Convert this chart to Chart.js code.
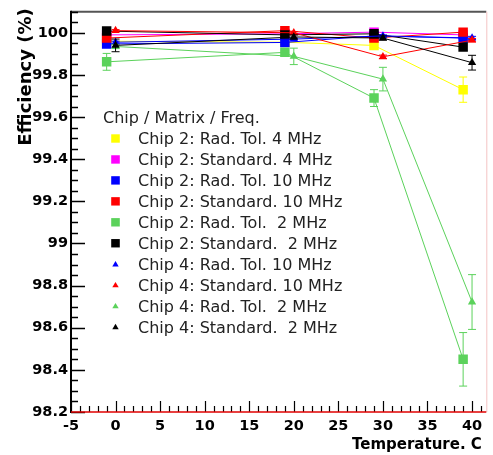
<!doctype html>
<html>
<head>
  <meta charset="utf-8" />
  <title>Efficiency vs Temperature</title>
  <script src="https://cdn.jsdelivr.net/npm/chart.js@4"></script>
  <style>
    body { margin: 0; background: #fff; }
    #wrap { width: 493px; height: 455px; }
  </style>
</head>
<body>
<div id="wrap"><canvas id="effChart" width="493" height="455"></canvas></div>

<script>
  // temperatures (C) - chip 2 points sit one degree left of chip 4 points
  var chip2Temp = [-1, 19, 29, 39];
  var chip4Temp = [0, 20, 30, 40];

  // efficiency (%) and errors, one pair of arrays per curve
  var c2RadTol4 = [99.96, 99.955, 99.94, 99.73];
  var c2RadTol4Err = [0.01, 0.01, 0.015, 0.06];
  var c2Std4 = [99.99, 99.995, 100.003, 99.99];
  var c2Std4Err = [0.005, 0.005, 0.005, 0.008];
  var c2RadTol10 = [99.947, 99.954, 99.985, 99.975];
  var c2RadTol10Err = [0.008, 0.008, 0.005, 0.008];
  var c2Std10 = [99.975, 100.01, 99.975, 100.003];
  var c2Std10Err = [0.005, 0.005, 0.005, 0.008];
  var c2RadTol2 = [99.862, 99.907, 99.69, 98.45];
  var c2RadTol2Err = [0.04, 0.015, 0.04, 0.127];
  var c2Std2 = [100.008, 99.99, 99.995, 99.932];
  var c2Std2Err = [0.005, 0.005, 0.008, 0.015];
  var c4RadTol10 = [99.955, 99.97, 99.985, 99.975];
  var c4RadTol10Err = [0.005, 0.005, 0.005, 0.008];
  var c4Std10 = [100.01, 100.0, 99.886, 99.965];
  var c4Std10Err = [0.005, 0.005, 0.008, 0.008];
  var c4RadTol2 = [99.935, 99.888, 99.78, 98.722];
  var c4RadTol2Err = [0.01, 0.039, 0.056, 0.13];
  var c4Std2 = [99.94, 99.98, 99.975, 99.858];
  var c4Std2Err = [0.03, 0.01, 0.01, 0.035];

  var seriesLabels = [
    'Chip 2: Rad. Tol. 4 MHz',
    'Chip 2: Standard. 4 MHz',
    'Chip 2: Rad. Tol. 10 MHz',
    'Chip 2: Standard. 10 MHz',
    'Chip 2: Rad. Tol.  2 MHz',
    'Chip 2: Standard.  2 MHz',
    'Chip 4: Rad. Tol. 10 MHz',
    'Chip 4: Standard. 10 MHz',
    'Chip 4: Rad. Tol.  2 MHz',
    'Chip 4: Standard.  2 MHz'
  ];
  var seriesColors = ['#ffff00', '#ff00ff', '#0000ff', '#ff0000', '#5bd25b', '#000000',
                      '#0000ff', '#ff0000', '#5bd25b', '#000000'];
  var seriesMarkers = ['rect', 'rect', 'rect', 'rect', 'rect', 'rect',
                       'triangle', 'triangle', 'triangle', 'triangle'];
  var seriesTemps = [chip2Temp, chip2Temp, chip2Temp, chip2Temp, chip2Temp, chip2Temp,
                     chip4Temp, chip4Temp, chip4Temp, chip4Temp];
  var seriesValues = [c2RadTol4, c2Std4, c2RadTol10, c2Std10, c2RadTol2, c2Std2,
                      c4RadTol10, c4Std10, c4RadTol2, c4Std2];
  var seriesErrors = [c2RadTol4Err, c2Std4Err, c2RadTol10Err, c2Std10Err, c2RadTol2Err, c2Std2Err,
                      c4RadTol10Err, c4Std10Err, c4RadTol2Err, c4Std2Err];

  var legendTitle = 'Chip / Matrix / Freq.';
  var yTitle = 'Efficiency (%)';
  var xTitle = 'Temperature. C';
  var yTicks = [98.2, 98.4, 98.6, 98.8, 99, 99.2, 99.4, 99.6, 99.8, 100];
  var xTicks = [-5, 0, 5, 10, 15, 20, 25, 30, 35, 40];
  var yMinorStep = 0.05;
  var xMinorStep = 1;

  var datasets = seriesLabels.map(function (lab, i) {
    return {
      label: lab,
      data: seriesTemps[i].map(function (t, j) {
        return { x: t, y: seriesValues[i][j], err: seriesErrors[i][j] };
      }),
      showLine: true,
      borderColor: seriesColors[i],
      borderWidth: 1,
      backgroundColor: seriesColors[i],
      pointBackgroundColor: seriesColors[i],
      pointBorderWidth: 0,
      pointStyle: seriesMarkers[i],
      pointRadius: seriesMarkers[i] === 'rect' ? 6.7 : 4.8,
      order: -i // later curves on top, like ROOT
    };
  });

  // error bars under each curve's markers
  var errorBars = {
    id: 'errorBars',
    beforeDatasetDraw: function (chart, args) {
      var ctx = chart.ctx, ys = chart.scales.y;
      var color = chart.data.datasets[args.index].borderColor;
      ctx.save();
      ctx.strokeStyle = color;
      ctx.lineWidth = 1;
      args.meta.data.forEach(function (pt, j) {
        var raw = chart.data.datasets[args.index].data[j];
        var top = ys.getPixelForValue(raw.y + raw.err);
        var bot = ys.getPixelForValue(raw.y - raw.err);
        ctx.beginPath();
        ctx.moveTo(pt.x, top); ctx.lineTo(pt.x, bot);
        ctx.moveTo(pt.x - 4, top); ctx.lineTo(pt.x + 4, top);
        ctx.moveTo(pt.x - 4, bot); ctx.lineTo(pt.x + 4, bot);
        ctx.stroke();
      });
      ctx.restore();
    }
  };

  function drawMarker(ctx, style, color, x, y) {
    ctx.fillStyle = color;
    ctx.beginPath();
    if (style === 'rect') {
      ctx.rect(x - 4.3, y - 4.2, 8.6, 8.4);
    } else {
      ctx.moveTo(x, y - 3.2);
      ctx.lineTo(x + 3.2, y + 2.2);
      ctx.lineTo(x - 3.2, y + 2.2);
      ctx.closePath();
    }
    ctx.fill();
  }

  // ROOT-like frame: inner ticks, titles and the legend box
  var rootFrame = {
    id: 'rootFrame',
    beforeDraw: function (chart) {
      var ctx = chart.ctx;
      ctx.save();
      ctx.fillStyle = '#fff';
      ctx.fillRect(0, 0, chart.width, chart.height);
      ctx.restore();
    },
    afterDraw: function (chart) {
      var ctx = chart.ctx, a = chart.chartArea;
      var xs = chart.scales.x, ys = chart.scales.y;
      ctx.save();

      // top and right frame edges
      ctx.strokeStyle = '#555';
      ctx.lineWidth = 2;
      ctx.beginPath(); ctx.moveTo(a.left, a.top); ctx.lineTo(a.right, a.top); ctx.stroke();
      ctx.strokeStyle = '#f4c4c4';
      ctx.lineWidth = 1;
      ctx.beginPath(); ctx.moveTo(a.right + 0.5, a.top); ctx.lineTo(a.right + 0.5, a.bottom); ctx.stroke();

      // y ticks (inside)
      ctx.strokeStyle = '#000';
      ctx.lineWidth = 1.5;
      ctx.beginPath();
      for (var k = 0; ; k++) {
        var v = ys.min + k * yMinorStep;
        if (v > ys.max + 1e-9) break;
        var py = Math.round(ys.getPixelForValue(v)) + 0.5;
        var len = (k % 4 === 0) ? 14 : 7;
        ctx.moveTo(a.left, py); ctx.lineTo(a.left + len, py);
      }
      ctx.stroke();

      // x ticks (inside)
      ctx.lineWidth = 1.2;
      ctx.beginPath();
      for (var t = xs.min; t <= xs.max; t += xMinorStep) {
        var px = Math.round(xs.getPixelForValue(t)) + 0.5;
        var lenx = (t % 5 === 0) ? 11 : 6;
        ctx.moveTo(px, a.bottom); ctx.lineTo(px, a.bottom - lenx);
      }
      ctx.stroke();

      // axis lines
      ctx.lineWidth = 2;
      ctx.strokeStyle = '#000';
      ctx.beginPath(); ctx.moveTo(a.left, a.top - 1); ctx.lineTo(a.left, a.bottom + 1); ctx.stroke();
      ctx.strokeStyle = '#e00000';
      ctx.lineWidth = 1.5;
      ctx.beginPath(); ctx.moveTo(a.left, a.bottom); ctx.lineTo(a.right, a.bottom); ctx.stroke();

      // axis titles
      ctx.fillStyle = '#000';
      ctx.font = 'bold 18px "DejaVu Sans"';
      ctx.save();
      ctx.translate(31, 77);
      ctx.rotate(-Math.PI / 2);
      ctx.textAlign = 'center';
      ctx.textBaseline = 'alphabetic';
      ctx.fillText(yTitle, 0, 0);
      ctx.restore();

      ctx.font = 'bold 15px "DejaVu Sans"';
      ctx.textAlign = 'left';
      ctx.textBaseline = 'alphabetic';
      ctx.fillText(xTitle, 352, 449);

      // legend
      ctx.font = '16px "DejaVu Sans"';
      ctx.fillStyle = '#222';
      ctx.fillText(legendTitle, 103, 123);
      seriesLabels.forEach(function (lab, i) {
        var cy = 138.5 + i * 20.95;
        drawMarker(ctx, seriesMarkers[i], seriesColors[i], 115.5, cy);
        ctx.fillStyle = '#222';
        ctx.fillText(lab, 138, cy + 5.8);
      });

      ctx.restore();
    }
  };

  var tickFont = { family: 'DejaVu Sans', size: 14.5, weight: 'bold' };

  var effChart = new Chart(document.getElementById('effChart').getContext('2d'), {
    type: 'scatter',
    data: { datasets: datasets },
    options: {
      responsive: false,
      animation: false,
      layout: { padding: { top: 7, right: 2, left: 0, bottom: 0 } },
      plugins: { legend: { display: false }, tooltip: { enabled: false } },
      scales: {
        x: {
          type: 'linear',
          min: -5,
          max: 41.6,
          afterBuildTicks: function (s) { s.ticks = xTicks.map(function (v) { return { value: v }; }); },
          afterFit: function (s) { s.height = 43; },
          grid: { display: false, drawTicks: false },
          border: { display: false },
          ticks: { font: tickFont, color: '#000', padding: 6, maxRotation: 0, autoSkip: false }
        },
        y: {
          type: 'linear',
          min: 98.2,
          max: 100.1,
          afterBuildTicks: function (s) { s.ticks = yTicks.map(function (v) { return { value: v }; }); },
          afterFit: function (s) { s.width = 71; },
          grid: { display: false, drawTicks: false },
          border: { display: false },
          ticks: {
            font: tickFont, color: '#000', padding: 3, autoSkip: false,
            callback: function (v) { return String(parseFloat(Number(v).toFixed(1))); }
          }
        }
      }
    },
    plugins: [errorBars, rootFrame]
  });
</script>
</body>
</html>
